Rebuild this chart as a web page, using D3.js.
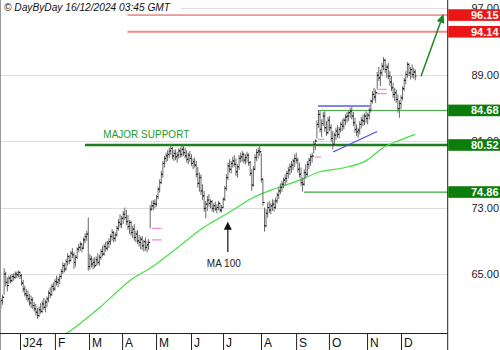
<!DOCTYPE html>
<html><head><meta charset="utf-8">
<script src="https://cdn.jsdelivr.net/npm/d3@7"></script>
<style>html,body{margin:0;padding:0;background:#fff;} svg{display:block;font-family:"Liberation Sans",Arial,sans-serif;}</style>
</head><body><svg id="c" width="500" height="350"></svg>
<script>
// ---- DATA ----
const highs = [
62.1,62.5,65.7,65.3,64.6,64.8,64.9,65.0,65.1,65.3,
65.3,65.4,65.3,65.0,64.3,63.6,63.2,63.0,62.6,62.4,
62.2,61.6,61.4,60.9,61.1,61.5,61.8,62.1,61.9,62.3,
63.0,63.4,63.8,64.0,64.4,64.8,64.6,65.0,65.6,66.4,
66.3,66.8,67.5,67.3,67.8,68.1,67.6,67.3,68.2,68.6,
68.9,68.7,69.4,69.9,70.2,71.8,67.4,67.2,66.9,67.0,
67.1,67.5,67.3,68.0,68.4,68.6,68.9,69.0,69.3,69.8,
70.4,70.2,70.0,70.8,71.6,72.2,72.0,72.6,73.0,72.7,
72.1,71.5,71.4,70.8,71.0,70.2,70.3,69.7,69.5,69.6,
69.1,69.4,69.0,69.2,73.3,73.8,73.9,74.0,74.5,75.5,
76.4,77.4,78.6,79.2,79.6,79.9,80.2,80.6,80.3,79.9,
80.0,79.7,80.1,80.2,80.4,80.6,80.2,79.9,79.6,79.8,
79.4,78.9,79.0,78.6,77.9,77.2,77.0,75.8,75.0,73.8,
74.4,74.6,74.0,73.9,73.5,73.7,73.4,73.8,73.6,73.3,
74.2,75.6,77.0,78.4,78.8,78.6,79.1,79.3,78.9,78.2,
79.3,79.6,79.8,79.6,79.4,79.7,79.5,78.6,77.6,78.0,
79.4,80.0,80.2,80.6,79.5,76.5,73.0,72.8,73.6,73.8,
73.5,74.0,73.9,74.2,74.8,75.4,75.9,76.2,76.6,77.0,
77.4,77.9,78.3,78.6,78.9,79.4,79.6,79.0,78.4,77.8,
76.6,77.6,78.2,78.6,79.0,79.4,79.6,81.0,81.2,83.5,
84.7,84.6,83.6,84.5,84.6,83.4,83.9,84.0,83.0,82.2,
82.0,82.6,82.9,82.7,83.3,83.6,83.8,84.2,84.5,84.6,
85.0,85.1,84.5,83.8,83.0,82.6,83.4,83.9,84.2,84.3,
84.6,84.4,85.0,86.0,87.0,87.4,87.2,89.3,89.9,89.6,
90.4,91.1,90.9,90.2,90.4,89.4,88.8,88.0,87.4,87.2,
86.6,85.9,86.5,87.6,88.6,89.4,90.5,90.4,89.9,90.2,
89.8,89.6];
const lows = [
60.9,61.3,62.5,63.5,62.9,63.8,63.9,64.0,64.2,64.4,
64.5,64.6,64.4,63.6,62.8,62.3,61.9,61.6,61.2,60.9,
60.8,60.5,60.0,59.6,59.8,60.2,60.3,60.7,60.4,61.0,
61.6,62.1,62.4,62.9,63.0,63.6,63.4,63.8,64.4,65.0,
65.2,65.4,66.0,66.2,66.5,66.9,65.6,65.9,66.8,67.6,
67.8,67.6,68.0,68.7,69.0,65.4,65.5,65.8,65.6,65.7,
66.0,66.1,66.0,66.7,67.1,67.2,67.7,67.8,68.1,68.5,
69.0,68.8,68.9,69.5,70.2,70.6,70.5,71.0,71.5,70.9,
70.3,69.8,69.6,69.3,69.0,68.8,68.6,68.3,68.0,67.9,
67.7,67.8,67.6,67.9,70.5,72.6,72.7,72.9,73.1,74.0,
74.8,75.8,76.6,77.8,78.4,78.6,79.0,79.3,78.8,78.6,
78.7,78.4,78.9,79.0,79.1,79.2,78.9,78.4,78.2,78.5,
78.0,77.6,77.8,76.6,75.4,74.9,74.5,73.9,72.5,71.7,
72.6,73.1,72.9,72.5,72.4,72.6,72.3,72.7,72.4,72.4,
72.9,73.8,75.0,76.3,77.2,77.1,77.8,77.9,76.8,76.6,
77.5,78.4,78.5,78.3,78.2,78.4,78.0,76.8,75.0,75.5,
77.5,78.6,78.9,79.2,76.0,73.2,70.1,70.6,71.8,72.3,
72.2,72.6,72.5,72.8,73.5,74.0,74.6,74.9,75.3,75.7,
76.0,76.5,76.9,77.2,77.5,77.9,78.3,77.2,76.6,75.6,
74.9,75.6,76.5,76.8,77.6,78.0,78.4,79.5,79.9,81.3,
82.6,82.0,81.5,82.8,82.1,81.6,81.8,82.2,80.9,80.0,
80.4,81.1,81.4,81.3,82.0,82.2,82.4,82.9,83.2,83.4,
83.8,83.6,82.8,82.0,81.6,81.4,81.8,82.5,82.8,82.9,
83.2,83.0,83.6,84.4,85.5,85.9,85.6,87.3,88.2,87.6,
88.8,89.5,89.2,88.6,88.4,87.6,87.0,86.2,85.8,85.6,
84.4,83.8,84.8,85.9,87.0,87.8,88.6,88.8,88.4,88.6,
88.5,88.3];
const closes = [
61.8,62.2,65.0,64.0,63.6,64.5,64.2,64.7,64.6,65.0,
64.9,65.2,64.8,63.9,63.2,62.6,62.4,62.0,61.5,61.9,
61.2,60.8,60.4,60.0,60.7,60.5,61.4,61.0,61.6,62.0,
62.7,62.5,63.5,63.2,64.1,64.0,64.3,64.7,65.3,66.0,
65.6,66.5,67.1,66.6,67.5,67.3,66.4,67.0,68.0,68.2,
68.6,68.1,69.1,69.5,69.8,65.9,66.8,66.2,66.4,66.0,
66.7,66.4,67.0,67.7,67.4,68.3,68.1,68.7,68.9,69.5,
70.0,69.3,69.7,70.5,71.2,71.0,71.7,72.2,71.8,71.3,
70.7,71.2,70.0,70.4,69.4,69.8,69.0,68.8,69.2,68.4,
68.9,68.2,68.5,68.8,72.8,73.2,73.5,73.4,74.3,75.2,
76.0,77.0,78.3,78.9,79.2,79.4,79.8,80.1,79.2,79.5,
79.1,79.3,79.8,79.4,80.0,79.6,79.2,78.8,79.3,78.9,
78.3,78.5,78.1,77.0,75.9,76.6,75.0,74.4,72.9,73.4,
73.9,73.5,73.7,72.9,73.2,72.8,73.0,73.5,72.7,73.0,
74.0,75.3,76.6,78.0,77.6,78.3,78.6,78.2,77.3,77.9,
78.9,79.1,79.4,78.7,79.0,79.3,78.4,77.1,75.7,77.6,
79.0,79.6,79.8,79.7,76.4,73.6,70.8,72.3,73.0,72.7,
73.2,73.4,73.0,73.8,74.5,75.0,75.4,75.8,76.3,76.5,
77.1,77.5,77.9,78.1,78.6,78.9,78.7,77.6,77.0,76.0,
75.8,77.2,77.0,78.2,78.7,79.1,79.2,80.6,81.0,83.0,
84.2,82.4,83.1,84.0,82.6,82.0,83.5,82.6,81.3,80.6,
81.7,82.2,81.8,82.4,83.0,82.8,83.5,83.9,84.0,84.4,
84.6,84.0,83.2,82.4,82.1,82.3,83.0,83.5,83.4,84.0,
83.7,84.1,84.7,85.8,86.6,86.3,86.8,88.9,88.6,89.2,
90.0,90.7,89.6,89.9,88.8,88.1,87.4,86.6,86.8,86.0,
84.9,85.5,86.2,87.3,88.3,89.0,90.2,89.2,89.6,89.0,
89.3,88.8];

const monthLabels = ["J24","F","M","A","M","J","J","A","S","O","N","D"];
const monthStartIdx = [12,34,55.5,76.3,97.7,119.7,139.9,163.8,185.9,206.6,230.6,252];
const priceTicks = [65, 73, 81, 89, 97];
const levelValues = [96.15, 94.14, 84.68, 80.52, 74.86];
const levelStartIdx = [79.7, 79.7, 199.7, 52.9, 190.9];
const maIdx = [38, 41.6, 62.4, 83.2, 93.9, 114.7, 125.4, 133.6, 146.2, 156.9, 173.9, 188.4, 201, 215.5, 230.6, 240.7, 251.4, 260.8];
const maVal = [57.5, 57.9, 61.0, 64.5, 65.7, 68.7, 70.3, 71.3, 72.7, 74.0, 75.35, 76.3, 77.3, 77.75, 78.7, 80.2, 81.1, 81.8];
const gapStartIdx = [95, 95, 197.8, 199.7, 236.7, 236.7];
const gapEndIdx = [101.3, 101.3, 201.6, 203.5, 243, 243];
const gapPrice = [70.5, 69.1, 79.05, 81.2, 87.2, 86.7];
const resistIdx = [199.7, 232.5], resistPrice = [85.21, 85.21];
const trendIdx = [209.2, 236.9], trendPrice = [79.68, 82.14];
const targetIdx = [264.6, 278.8], targetPrice = [88.8, 96.3];
const maArrowIdx = 142.9, maArrowPrice = [67.65, 71.3];
const supportLabelIdx = 64.5;
const title = "© DayByDay 16/12/2024 03:45 GMT";

// ---- CHART ----
const W = 500, H = 350, plotR = 447.7, plotB = 333.5;
const svg = d3.select("#c");
const x = d3.scaleLinear().domain([-0.6, 281.4]).range([0, plotR]);
const y = d3.scaleLinear().domain([65, 97]).range([274, 8]);

svg.append("rect").attr("width", W).attr("height", H).attr("fill", "#fff");
svg.append("clipPath").attr("id", "clip").append("rect")
  .attr("x", 0).attr("y", 0).attr("width", plotR).attr("height", plotB);
const g = svg.append("g").attr("clip-path", "url(#clip)");

// gridlines
g.selectAll("line.grid").data(priceTicks).join("line")
  .attr("x1", 0).attr("x2", plotR)
  .attr("y1", d => Math.round(y(d)) + 0.5).attr("y2", d => Math.round(y(d)) + 0.5)
  .attr("stroke", "#dedede").attr("stroke-width", 1);

// level lines
const levelStyle = [
  {c: "#e04848", w: 1}, {c: "#f08a8a", w: 2}, {c: "#3aa53a", w: 1},
  {c: "#1e7d1e", w: 2.5}, {c: "#3aa53a", w: 1.2}];
levelValues.forEach((v, k) => {
  g.append("line").attr("x1", x(levelStartIdx[k])).attr("x2", plotR)
    .attr("y1", y(v)).attr("y2", y(v))
    .attr("stroke", levelStyle[k].c).attr("stroke-width", levelStyle[k].w);
});

// MA 100
const ma = maIdx.map((d, k) => [d, maVal[k]]);
g.append("path").datum(ma)
  .attr("d", d3.line().x(d => x(d[0])).y(d => y(d[1])).curve(d3.curveMonotoneX))
  .attr("fill", "none").attr("stroke", "#44e044").attr("stroke-width", 1.2);

// OHLC bars
const bars = g.append("g");
highs.forEach((h, i) => {
  const xi = x(i);
  bars.append("line").attr("x1", xi).attr("x2", xi).attr("y1", y(h)).attr("y2", y(lows[i]))
    .attr("stroke", "#6a6a6a").attr("stroke-width", 1);
  if (i > 0) bars.append("line").attr("x1", xi - 1.3).attr("x2", xi).attr("y1", y(closes[i-1])).attr("y2", y(closes[i-1]))
    .attr("stroke", "#111").attr("stroke-width", 1);
  bars.append("line").attr("x1", xi).attr("x2", xi + 1.3).attr("y1", y(closes[i])).attr("y2", y(closes[i]))
    .attr("stroke", "#111").attr("stroke-width", 1);
});

// gap markers
gapPrice.forEach((p, k) => {
  g.append("line").attr("x1", x(gapStartIdx[k])).attr("x2", x(gapEndIdx[k]))
    .attr("y1", y(p)).attr("y2", y(p)).attr("stroke", "#f28ae0").attr("stroke-width", 1.3);
});

// blue lines
g.append("line").attr("x1", x(resistIdx[0])).attr("x2", x(resistIdx[1]))
  .attr("y1", y(resistPrice[0])).attr("y2", y(resistPrice[1])).attr("stroke", "#5a5aee").attr("stroke-width", 1.5);
g.append("line").attr("x1", x(trendIdx[0])).attr("x2", x(trendIdx[1]))
  .attr("y1", y(trendPrice[0])).attr("y2", y(trendPrice[1])).attr("stroke", "#4a4ae8").attr("stroke-width", 1.2);

// MAJOR SUPPORT text
g.append("text").attr("x", x(supportLabelIdx)).attr("y", y(80.52) - 7)
  .attr("font-size", 10).attr("fill", "#1f9a1f").text("MAJOR SUPPORT");

// MA 100 arrow
const ax = x(maArrowIdx), ay0 = y(maArrowPrice[0]), ay1 = y(maArrowPrice[1]);
g.append("line").attr("x1", ax).attr("x2", ax).attr("y1", ay0).attr("y2", ay1 + 6)
  .attr("stroke", "#222").attr("stroke-width", 1.3);
g.append("path").attr("d", `M${ax},${ay1} L${ax-4},${ay1+8} L${ax+4},${ay1+8} Z`).attr("fill", "#111");
g.append("text").attr("x", ax - 4).attr("y", ay0 + 15).attr("text-anchor", "middle")
  .attr("font-size", 10).attr("fill", "#222").text("MA 100");

// target arrow
const tx0 = x(targetIdx[0]), ty0 = y(targetPrice[0]), tx1 = x(targetIdx[1]), ty1 = y(targetPrice[1]);
const ang = Math.atan2(ty1 - ty0, tx1 - tx0);
const hl = 9, hw = 4;
const bx = tx1 - hl * Math.cos(ang), by = ty1 - hl * Math.sin(ang);
g.append("line").attr("x1", tx0).attr("y1", ty0).attr("x2", bx).attr("y2", by)
  .attr("stroke", "#1a8c1a").attr("stroke-width", 1.5);
g.append("path").attr("d", `M${tx1},${ty1} L${bx + hw*Math.sin(ang)},${by - hw*Math.cos(ang)} L${bx - hw*Math.sin(ang)},${by + hw*Math.cos(ang)} Z`)
  .attr("fill", "#1a8c1a");

// title
svg.append("rect").attr("x", 1).attr("y", 0).attr("width", 180).attr("height", 13).attr("fill", "#fff");
svg.append("text").attr("x", 4).attr("y", 10.5).attr("font-size", 10.2).attr("font-style", "italic")
  .attr("fill", "#111").text(title);

// frame
svg.append("line").attr("x1", 0.5).attr("x2", 0.5).attr("y1", 0).attr("y2", H).attr("stroke", "#999");
svg.append("line").attr("x1", 0).attr("x2", plotR).attr("y1", plotB).attr("y2", plotB).attr("stroke", "#222");
svg.append("line").attr("x1", plotR).attr("x2", plotR).attr("y1", 0).attr("y2", H).attr("stroke", "#222");

// month axis
const xAxis = d3.axisBottom(x).tickValues(monthStartIdx).tickSize(0).tickFormat((d, k) => monthLabels[k]);
const ax2 = svg.append("g").attr("transform", `translate(0,${plotB})`).call(xAxis);
ax2.select(".domain").remove();
ax2.selectAll(".tick line").remove();
ax2.selectAll(".tick").append("line").attr("x1", 0).attr("x2", 0).attr("y1", 0).attr("y2", H - plotB)
  .attr("stroke", "#222");
ax2.selectAll(".tick text").attr("x", 2.5).attr("y", 13).attr("dy", null).attr("text-anchor", "start")
  .attr("font-size", 12).attr("font-family", "Liberation Sans, Arial, sans-serif").attr("fill", "#111");

// price labels
const yAxis = d3.axisRight(y).tickValues(priceTicks).tickSize(0).tickFormat(d3.format(".2f"));
const ay = svg.append("g").attr("transform", `translate(${W - 1},0)`).call(yAxis);
ay.select(".domain").remove();
ay.selectAll(".tick text").attr("x", 0).attr("text-anchor", "end").attr("dy", "0.36em")
  .attr("font-size", 11).attr("font-family", "Liberation Sans, Arial, sans-serif").attr("fill", "#222");

// level boxes
const boxColor = ["#ea1515", "#ea1515", "#0b7d0b", "#0b7d0b", "#0b7d0b"];
levelValues.forEach((v, k) => {
  const yy = y(v);
  svg.append("rect").attr("x", plotR + 0.5).attr("y", yy - 5.8).attr("width", W - plotR).attr("height", 11.6)
    .attr("fill", boxColor[k]);
  svg.append("text").attr("x", W - 1.5).attr("y", yy + 4).attr("text-anchor", "end")
    .attr("font-size", 11).attr("font-weight", "bold").attr("fill", "#fff").text(v.toFixed(2));
});
</script></body></html>
